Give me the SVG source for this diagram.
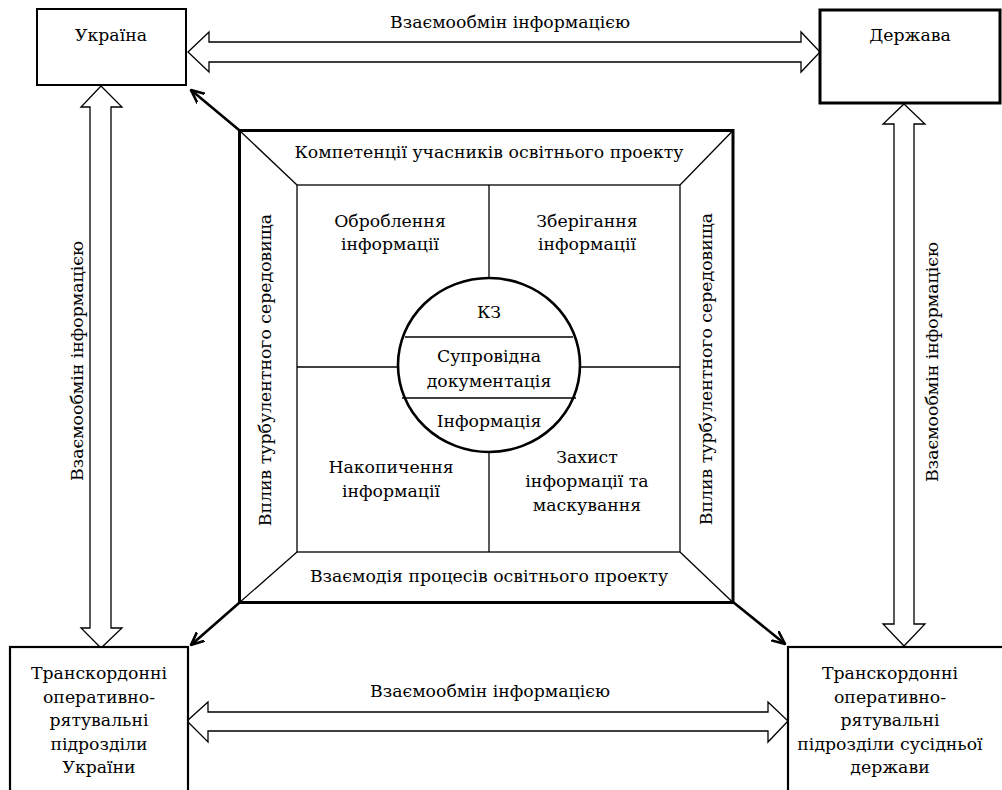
<svg xmlns="http://www.w3.org/2000/svg" width="1002" height="790" viewBox="0 0 1002 790">
<style>
text{font-family:"DejaVu Serif",serif;font-size:17.3px;fill:#000;text-anchor:middle}
.box{fill:#fff;stroke:#000}
.thin{fill:none;stroke:#000;stroke-width:1.3}
.harrow{fill:#fff;stroke:#000;stroke-width:1.3;stroke-linejoin:miter}
.diag{fill:none;stroke:#000;stroke-width:2.6}
</style>
<defs>
<marker id="vhead" viewBox="0 0 14 14" refX="13" refY="7" markerWidth="14" markerHeight="14" markerUnits="userSpaceOnUse" orient="auto">
<path d="M-5,-1 L13,7 L-5,15" fill="none" stroke="#000" stroke-width="2.6"/>
</marker>
</defs>
<rect width="1002" height="790" fill="#fff"/>
<g id="connectors">
<polygon class="harrow" points="188,52 209,32 209,42 801,42 801,32 820,52 801,72 801,62 209,62 209,72"/>
<polygon class="harrow" points="187,721 208,702 208,712 768,712 768,702 788,721 768,742 768,731 208,731 208,742"/>
<polygon class="harrow" points="101,86 122,107 111,107 111,628 122,628 101,648 81,628 90,628 90,107 81,107"/>
<polygon class="harrow" points="904,104 925,124 914,124 914,624 925,624 904,646 883,624 894,624 894,124 883,124"/>
<line class="diag" x1="239" y1="130" x2="191" y2="90" marker-end="url(#vhead)"/>
<line class="diag" x1="239" y1="603" x2="191" y2="645" marker-end="url(#vhead)"/>
<line class="diag" x1="733" y1="602" x2="785" y2="644" marker-end="url(#vhead)"/>
<text x="510" y="28">Взаємообмін інформацією</text>
<text x="490" y="697">Взаємообмін інформацією</text>
<text transform="translate(83,361) rotate(-90)">Взаємообмін інформацією</text>
<text transform="translate(938,362) rotate(-90)">Взаємообмін інформацією</text>
</g>

<g id="ukraine">
<rect class="box" x="37" y="9" width="149" height="76" stroke-width="2"/>
<text x="111" y="41">Україна</text>
</g>

<g id="derzhava">
<rect class="box" x="820" y="10" width="180" height="93" stroke-width="3"/>
<text x="910" y="41">Держава</text>
</g>

<g id="units-ukraine">
<rect class="box" x="10" y="647" width="178" height="150" stroke-width="2.2"/>
<text x="99" y="679">Транскордонні</text>
<text x="99" y="702.5">оперативно-</text>
<text x="99" y="726">рятувальні</text>
<text x="99" y="749.5">підрозділи</text>
<text x="99" y="773">України</text>
</g>

<g id="units-neighbour">
<rect class="box" x="788" y="647" width="220" height="150" stroke-width="2.2"/>
<text x="890" y="679">Транскордонні</text>
<text x="890" y="702.5">оперативно-</text>
<text x="890" y="726">рятувальні</text>
<text x="890" y="749.5">підрозділи сусідньої</text>
<text x="890" y="773">держави</text>
</g>

<g id="centre">
<rect x="239.5" y="130.5" width="493.5" height="472" fill="#fff" stroke="#000" stroke-width="3"/>
<rect class="thin" x="297" y="185" width="383" height="367"/>
<line class="thin" x1="239.5" y1="130.5" x2="297" y2="185"/>
<line class="thin" x1="733" y1="130.5" x2="680" y2="185"/>
<line class="thin" x1="239.5" y1="602.5" x2="297" y2="552"/>
<line class="thin" x1="733" y1="602.5" x2="680" y2="552"/>
<line class="thin" x1="489" y1="185" x2="489" y2="552"/>
<line class="thin" x1="297" y1="367" x2="680" y2="367"/>
<ellipse cx="489" cy="365" rx="91" ry="87" fill="#fff" stroke="#000" stroke-width="2.6"/>
<line class="thin" x1="405" y1="337" x2="573" y2="337"/>
<line class="thin" x1="402" y1="398" x2="576" y2="398"/>
<text x="489" y="158">Компетенції учасників освітнього проекту</text>
<text x="489" y="582">Взаємодія процесів освітнього проекту</text>
<text transform="translate(271,370) rotate(-90)">Вплив турбулентного середовища</text>
<text transform="translate(712,369) rotate(-90)">Вплив турбулентного середовища</text>
<text x="390" y="227">Оброблення</text>
<text x="390" y="250">інформації</text>
<text x="587" y="227">Зберігання</text>
<text x="587" y="250">інформації</text>
<text x="391" y="473">Накопичення</text>
<text x="391" y="497">інформації</text>
<text x="587" y="463">Захист</text>
<text x="587" y="487">інформації та</text>
<text x="587" y="511">маскування</text>
<text x="489" y="318">КЗ</text>
<text x="489" y="362">Супровідна</text>
<text x="489" y="387">документація</text>
<text x="489" y="427">Інформація</text>
</g>
</svg>
